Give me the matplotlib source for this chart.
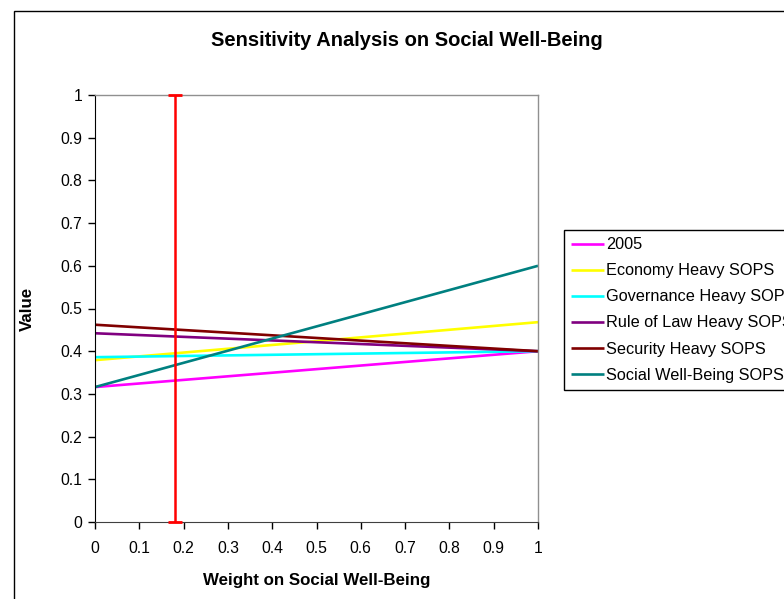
import matplotlib
matplotlib.use("Agg")
import matplotlib.pyplot as plt
from matplotlib.patches import Rectangle

# weight on social well-being (x) and the value at both ends of each line
weights = [0.0, 1.0]
series_names = ["2005", "Economy Heavy SOPS", "Governance Heavy SOPS",
                "Rule of Law Heavy SOPS", "Security Heavy SOPS",
                "Social Well-Being SOPS"]
v_2005 = [0.316, 0.400]
v_economy = [0.379, 0.468]
v_governance = [0.386, 0.400]
v_rule_of_law = [0.442, 0.400]
v_security = [0.462, 0.400]
v_social = [0.316, 0.600]
series_colors = ["#FF00FF", "#FFFF00", "#00FFFF", "#800080", "#800000", "#008080"]

# current weight marker
current_weight = 0.18
marker_range = [0.0, 1.0]

x_ticks = [0, 0.1, 0.2, 0.3, 0.4, 0.5, 0.6, 0.7, 0.8, 0.9, 1]
y_ticks = [0, 0.1, 0.2, 0.3, 0.4, 0.5, 0.6, 0.7, 0.8, 0.9, 1]


def main():
    plt.rcParams['font.family'] = ['Liberation Sans', 'DejaVu Sans']
    W, H = 784, 599
    fig = plt.figure(figsize=(W / 100, H / 100), dpi=100)

    # outer chart border (runs off the right and bottom edges)
    fig.patches.append(Rectangle((14 / W, -0.05), 1.2, 1 - 11 / H + 0.05,
                                 transform=fig.transFigure, fill=False,
                                 edgecolor="black", linewidth=1.0))

    ax = fig.add_axes([95 / W, 1 - 522 / H, (538 - 95) / W, (522 - 95) / H])

    values = [v_2005, v_economy, v_governance, v_rule_of_law, v_security, v_social]
    for name, vals, col in zip(series_names, values, series_colors):
        ax.plot(weights, vals, color=col, linewidth=1.9, label=name,
                solid_capstyle="butt")

    # vertical marker with small caps at the ends
    ax.plot([current_weight, current_weight], marker_range, color="#FF0000",
            linewidth=1.8, solid_capstyle="butt")
    ax.plot([current_weight] * 2, marker_range, linestyle="none", marker="_",
            markersize=10, markeredgewidth=2.0, color="#FF0000", clip_on=False,
            zorder=5)

    ax.set_xlim(0, 1)
    ax.set_ylim(0, 1)
    ax.set_xticks(x_ticks)
    ax.set_yticks(y_ticks)
    ax.set_xticklabels([f"{t:g}" for t in x_ticks])
    ax.set_yticklabels([f"{t:g}" for t in y_ticks])
    ax.tick_params(axis="both", direction="out", length=5, width=1,
                   labelsize=11.3, color="black")
    ax.tick_params(axis="x", pad=9)
    ax.tick_params(axis="y", pad=4)

    for side in ("top", "right"):
        ax.spines[side].set_color("#909090")
        ax.spines[side].set_linewidth(1.0)
    ax.spines["left"].set_color("black")
    ax.spines["bottom"].set_color("#404040")

    ax.set_xlabel("Weight on Social Well-Being", fontsize=12.2, fontweight="bold")
    ax.set_ylabel("Value", fontsize=12.2, fontweight="bold")
    ax.xaxis.set_label_coords(0.5, -(573 - 522) / 427)
    ax.yaxis.set_label_coords(-(95 - 35) / 443, 0.5)

    fig.text(407 / W, 1 - 40 / H, "Sensitivity Analysis on Social Well-Being",
             ha="center", va="center", fontsize=14.5, fontweight="bold")

    leg = ax.legend(loc="upper left", bbox_to_anchor=(564 / W, 1 - 230 / H),
                    bbox_transform=fig.transFigure, fontsize=11.7,
                    handlelength=2.0, handletextpad=0.12, labelspacing=0.68,
                    borderpad=0.45, borderaxespad=0, fancybox=False,
                    frameon=True, edgecolor="black", framealpha=1)
    leg.get_frame().set_linewidth(1.0)

    fig.savefig("out.png", dpi=100)


if __name__ == "__main__":
    main()
